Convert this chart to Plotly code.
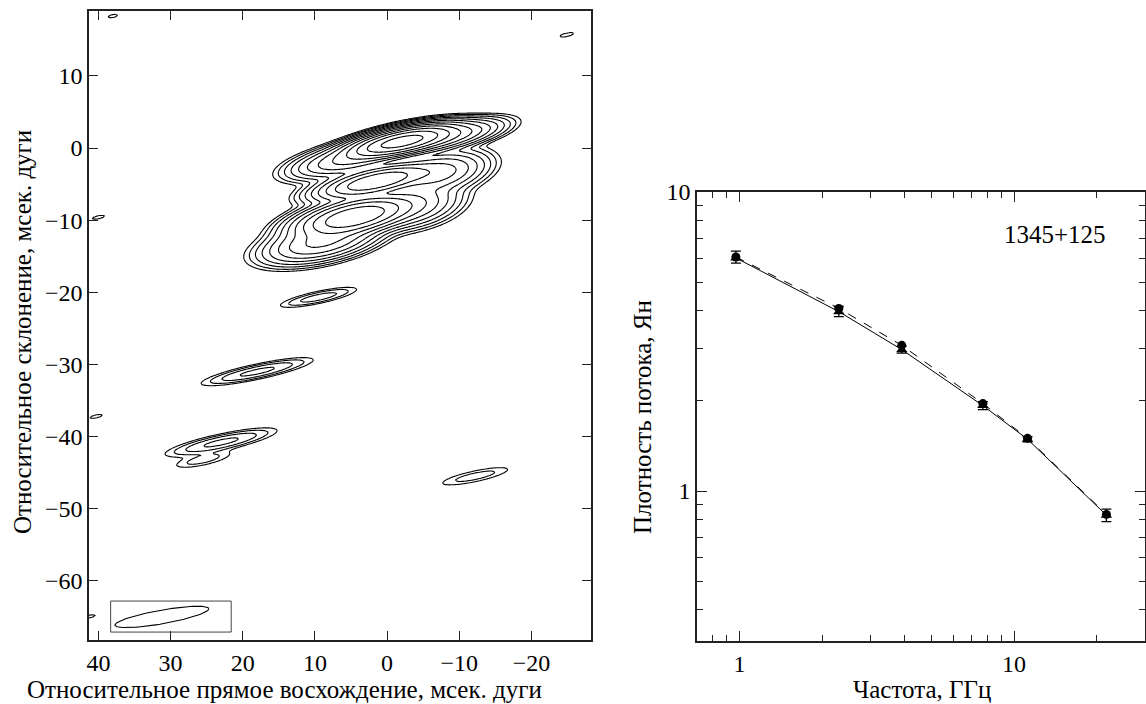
import numpy as np
import plotly.graph_objects as go

# ---------------- Left panel: VLBI map modelled by elliptical Gaussian components ----------------
# component parameters (RA offset, Dec offset in mas; peak in units of the lowest contour;
# sigma along major/minor axis in mas; position angle of the major axis in degrees)
comp_x    = [-2.0, -7.5,  5.0,  1.5,  4.5,  9.0, -3.5, -7.0,  9.5, 18.0, 23.0, 25.5, -12.2,
             38.0, -24.9, 42.2, 40.0, 42.0, 40.3, 42.0, 41.5]
comp_y    = [ 0.9,  1.4, -1.5, -4.6, -9.5, -13.0, -8.0, -3.5, -20.7, -31.0, -40.8, -43.2, -45.5,
             18.3, 15.7, 13.0, -9.6, -14.3, -37.2, -42.3, -65.0]
comp_peak = [3000, 250, 150, 500, 1000, 150, 60, 90, 6, 10, 10, 3, 3,
             1.3, 1.4, 1.2, 1.3, 1.2, 1.3, 1.2, 1.3]
comp_smaj = [3.2, 3.4, 3.5, 3.5, 3.5, 3.5, 3.0, 3.0, 2.85, 3.7, 3.7, 2.5, 3.1,
             0.9, 1.2, 1.0, 1.2, 1.0, 1.2, 1.0, 1.5]
comp_smin = [0.72, 0.75, 0.9, 0.8, 1.0, 1.1, 1.3, 1.2, 0.45, 0.5, 0.55, 0.5, 0.5,
             0.3, 0.3, 0.3, 0.3, 0.3, 0.3, 0.3, 0.3]
comp_pa   = [12] * 21

# contour levels: log2 of intensity relative to the lowest level
level_start, level_end, level_step = 0, 12, 1

# restoring beam
beam_x, beam_y, beam_maj, beam_min, beam_pa = 31.2, -65.0, 13.2, 1.9, 10
beam_box = (38.3, 21.6, -62.8, -67.1)

# ---------------- Right panel: radio spectrum 1345+125 ----------------
freq = [0.97, 2.3, 3.9, 7.7, 11.2, 21.7]
flux_a = [6.02, 3.98, 2.97, 1.93, 1.49, 0.83]
flux_b = [6.06, 4.08, 3.07, 1.96, 1.50, 0.835]
err_up = [0.32, 0.16, 0.08, 0.06, 0.03, 0.04]
err_dn = [0.24, 0.15, 0.08, 0.06, 0.03, 0.04]
source_name = "1345+125"

# ---------------- build map ----------------
gx = np.arange(-29.0, 42.6, 0.2)
gy = np.arange(-69.0, 20.1, 0.2)
X, Y = np.meshgrid(gx, gy)
I = np.zeros_like(X)
for x0, y0, p, sa, sb, pa in zip(comp_x, comp_y, comp_peak, comp_smaj, comp_smin, comp_pa):
    t = np.deg2rad(pa)
    dx, dy = X - x0, Y - y0
    u = -dx * np.cos(t) + dy * np.sin(t)
    v = dx * np.sin(t) + dy * np.cos(t)
    I += p * np.exp(-0.5 * ((u / sa) ** 2 + (v / sb) ** 2))
Z = np.round(np.maximum(np.log2(I + 1e-9), -1.0), 2)

FONT = "Liberation Serif"
TICK_FS = 24
TITLE_FS = 25
fig = go.Figure()

fig.add_trace(go.Contour(
    x=gx, y=gy, z=Z, xaxis="x", yaxis="y",
    contours=dict(start=level_start, end=level_end, size=level_step, coloring="lines"),
    colorscale=[[0, "black"], [1, "black"]], showscale=False,
    line=dict(width=1.1, color="black"), hoverinfo="skip",
))

# beam ellipse
tt = np.linspace(0, 2 * np.pi, 120)
bt = np.deg2rad(beam_pa)
bu = 0.5 * beam_maj * np.cos(tt)
bv = 0.5 * beam_min * np.sin(tt)
fig.add_trace(go.Scatter(
    x=beam_x - bu * np.cos(bt) + bv * np.sin(bt),
    y=beam_y + bu * np.sin(bt) + bv * np.cos(bt),
    mode="lines", line=dict(color="black", width=1.1), xaxis="x", yaxis="y",
    hoverinfo="skip", showlegend=False,
))
fig.add_shape(type="rect", xref="x", yref="y",
              x0=beam_box[0], x1=beam_box[1], y0=beam_box[2], y1=beam_box[3],
              line=dict(color="#444", width=1))

# spectrum
fig.add_trace(go.Scatter(
    x=freq, y=flux_b, mode="lines+markers", xaxis="x2", yaxis="y2",
    line=dict(color="black", width=1, dash="dash"),
    marker=dict(symbol="circle", size=9, color="black"),
    showlegend=False,
))
fig.add_trace(go.Scatter(
    x=freq, y=flux_a, mode="lines+markers", xaxis="x2", yaxis="y2",
    line=dict(color="black", width=1),
    marker=dict(symbol="triangle-up", size=10, color="black"),
    error_y=dict(type="data", array=err_up, arrayminus=err_dn, color="black",
                 thickness=1.3, width=5),
    showlegend=False,
))

W, H = 1146, 704
axcommon = dict(showgrid=False, zeroline=False, showline=True, linecolor="#222",
                linewidth=1.5, ticks="inside", tickcolor="#222", tickwidth=1.3,
                mirror="ticks", automargin=False,
                tickfont=dict(family=FONT, size=TICK_FS, color="black"))

ann = dict(xref="paper", yref="paper", showarrow=False, xanchor="center", yanchor="middle",
           font=dict(family=FONT, size=TITLE_FS, color="black"))

fig.update_layout(
    template="none",
    width=W, height=H, margin=dict(l=0, r=0, t=0, b=0, pad=0),
    paper_bgcolor="white", plot_bgcolor="white", showlegend=False,
    font=dict(family=FONT, size=TICK_FS, color="black"),
    xaxis=dict(domain=[89 / W, 591 / W], range=[41.3, -28.25], anchor="y",
               tickvals=[40, 30, 20, 10, 0, -10, -20], ticklen=9, **axcommon),
    yaxis=dict(domain=[1 - 640 / H, 1 - 11 / H], range=[-68.2, 19.0], anchor="x",
               tickvals=[-60, -50, -40, -30, -20, -10, 0, 10], ticklen=9, **axcommon),
    xaxis2=dict(domain=[697 / W, 1145 / W], type="log", anchor="y2",
                range=[np.log10(0.7), np.log10(30)], tickvals=[1, 10], ticktext=["1", "10"],
                ticklen=10,
                minor=dict(tickvals=[0.8, 0.9, 2, 3, 4, 5, 6, 7, 8, 9, 20, 30],
                           ticks="inside", ticklen=6, tickcolor="#222", tickwidth=1.2),
                **axcommon),
    yaxis2=dict(domain=[1 - 641 / H, 1 - 192 / H], type="log", anchor="x2",
                range=[np.log10(0.315), 1], tickvals=[1, 10], ticktext=["1", "10"],
                ticklen=10,
                minor=dict(tickvals=[0.4, 0.5, 0.6, 0.7, 0.8, 0.9, 2, 3, 4, 5, 6, 7, 8, 9],
                           ticks="inside", ticklen=6, tickcolor="#222", tickwidth=1.2),
                **axcommon),
    annotations=[
        dict(text="Относительное прямое восхождение, мсек. дуги", x=284 / W, y=1 - 689 / H, **ann),
        dict(text="Относительное склонение, мсек. дуги", x=22 / W, y=1 - 332 / H,
             textangle=-90, **ann),
        dict(text="Частота, ГГц", x=922 / W, y=1 - 689 / H, **ann),
        dict(text="Плотность потока, Ян", x=642 / W, y=1 - 417 / H, textangle=-90, **ann),
        dict(text=source_name, x=1055 / W, y=1 - 235 / H, **ann),
    ],
)

fig.write_html("out.html", config={"displayModeBar": False},
               post_script="document.body.style.margin='0';document.body.style.overflow='hidden';")
